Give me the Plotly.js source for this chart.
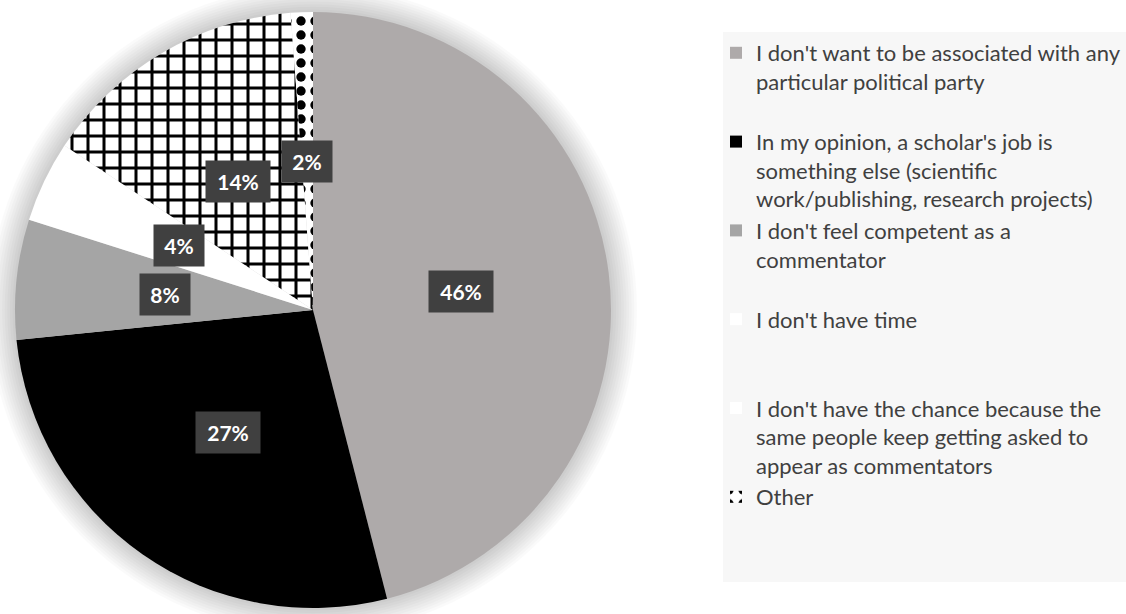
<!DOCTYPE html>
<html>
<head>
<meta charset="utf-8">
<script src="https://cdn.plot.ly/plotly-3.0.1.min.js"></script>
<style>html,body{margin:0;padding:0;background:#fff;}#chart{width:1126px;height:614px;}</style>
</head>
<body>
<div id="chart"></div>
<script>
// ---- data ----
const categories = [
  "I don't want to be associated with any<br>particular political party",
  "In my opinion, a scholar's job is<br>something else (scientific<br>work/publishing, research projects)",
  "I don't feel competent as a<br>commentator",
  "I don't have time",
  "I don't have the chance because the<br>same people keep getting asked to<br>appear as commentators",
  "Other"
];
const sliceValues = [46, 27.4, 6.5, 4.4, 14.5, 1.2];
// data labels as printed on the chart
const valueLabels = ["46%", "27%", "8%", "4%", "14%", "2%"];

// ---- styles ----
const sliceColors = ["#aeaaaa", "#000000", "#a5a5a5", "#ffffff", "#ffffff", "#ffffff"];
const patternShapes = ["", "", "", "", "+", "."];
const legendPad = [1, 0, 1, 2, 0, 0];

const W = 1126, H = 614;
const cx = 313, cy = 310, R = 298;

const legendLabels = categories.map((c, i) => c + "<br>\u00a0".repeat(legendPad[i]));

const trace = {
  type: 'pie',
  labels: legendLabels,
  values: sliceValues,
  sort: false,
  direction: 'clockwise',
  rotation: 0,
  textinfo: 'none',
  hoverinfo: 'none',
  marker: {
    colors: sliceColors,
    line: {width: 0},
    pattern: {
      shape: patternShapes,
      fgcolor: "#000000",
      bgcolor: "#ffffff",
      size: [8, 8, 8, 8, 16, 14],
      solidity: [0.3, 0.3, 0.3, 0.3, 0.34, 0.35]
    }
  },
  domain: {
    x: [(cx - R) / W, (cx + R) / W],
    y: [1 - (cy + R) / H, 1 - (cy - R) / H]
  }
};

const total = sliceValues.reduce((a, b) => a + b, 0);
let cum = 0;
const annotations = sliceValues.map((v, i) => {
  const mid = (cum + v / 2) / total * 2 * Math.PI;
  cum += v;
  const px = cx + 0.5 * R * Math.sin(mid);
  const py = cy - 0.5 * R * Math.cos(mid);
  return {
    xref: 'paper', yref: 'paper',
    x: px / W, y: 1 - py / H,
    xanchor: 'center', yanchor: 'middle',
    text: '<b>' + valueLabels[i] + '</b>',
    showarrow: false,
    font: {family: 'Lato, "Open Sans", sans-serif', size: 21, color: '#ffffff'},
    bgcolor: '#404040',
    width: 22 + 14 * valueLabels[i].length,
    height: 41,
    borderpad: 0
  };
});

// soft shadow around the pie (decoration)
const shapes = [{
  type: 'rect', xref: 'paper', yref: 'paper', layer: 'below',
  x0: 723 / W, x1: 1, y0: 1 - 582 / H, y1: 1 - 32 / H,
  fillcolor: '#f7f7f7', line: {width: 0}
}];
for (let k = 1; k <= 10; k++) {
  const rr = R + k * 2.6;
  shapes.push({
    type: 'circle', xref: 'paper', yref: 'paper', layer: 'below',
    x0: (cx - rr) / W, x1: (cx + rr) / W,
    y0: 1 - (cy + rr) / H, y1: 1 - (cy - rr) / H,
    fillcolor: 'rgba(0,0,0,0.018)', line: {width: 0}
  });
}

const layout = {
  width: W, height: H,
  margin: {l: 0, r: 0, t: 0, b: 0},
  paper_bgcolor: '#ffffff',
  showlegend: true,
  legend: {
    x: 716 / W, y: 1 - 32 / H,
    xanchor: 'left', yanchor: 'top',
    bgcolor: 'rgba(0,0,0,0)',
    font: {family: 'Lato, "Open Sans", sans-serif', size: 22, color: '#404040'},
    valign: 'top',
    traceorder: 'normal'
  },
  shapes: shapes,
  annotations: annotations
};

Plotly.newPlot('chart', [trace], layout, {displayModeBar: false, staticPlot: true});
</script>
</body>
</html>
